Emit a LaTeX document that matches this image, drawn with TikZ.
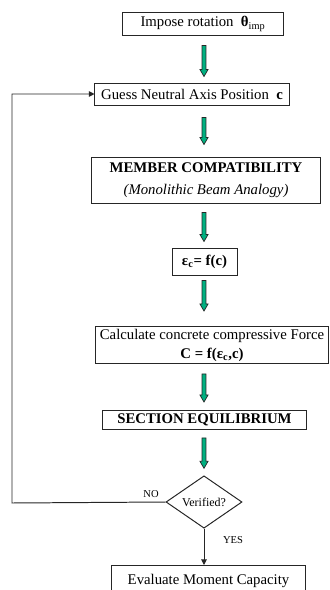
\documentclass[tikz,border=0pt]{standalone}
\usepackage{fontspec}
\setmainfont{Liberation Serif}
\usetikzlibrary{shapes.geometric, arrows.meta, calc}
\definecolor{arrgreen}{RGB}{0,176,128}

\begin{document}
\begin{tikzpicture}[
    x=0.025cm, y=-0.025cm,
    box/.style={rectangle, draw=black!85, line width=0.7pt, inner sep=1pt, align=center, font=\fontsize{10.5}{13}\selectfont},
    garr/.style={draw=black!85, fill=arrgreen, line width=0.5pt,
        to path={let \p1=(\tikztostart), \p2=(\tikztotarget) in
            (\x1-1.4pt,\y1) -- (\x2-1.4pt,\y2+5pt) -- (\x2-2.9pt,\y2+5pt) -- (\x2,\y2)
            -- (\x2+2.9pt,\y2+5pt) -- (\x2+1.4pt,\y2+5pt) -- (\x1+1.4pt,\y1) -- cycle}},
    arr/.style={-{Triangle[length=4pt,width=4pt]}, line width=0.7pt, draw=black!85},
    lbl/.style={font=\fontsize{7.5}{9}\selectfont}
]
\useasboundingbox (0,0) rectangle (329,590);
\coordinate (spine) at (204,0);

% Main chain
\node[box, minimum width=4cm, minimum height=0.575cm] (imp) at (203,24) {Impose rotation\ \ \textbf{θ}\textsubscript{imp}};
\node[box, minimum width=4.85cm, minimum height=0.55cm] (guess) at (192,94) {Guess Neutral Axis Position\ \ \textbf{c}};
\node[box, minimum width=5.7cm, minimum height=1.15cm, font=\fontsize{10.5}{15.5}\selectfont] (compat) at (206,180) {\textbf{MEMBER COMPATIBILITY}\\\textit{(Monolithic Beam Analogy)}};
\node[box, minimum width=1.625cm, minimum height=0.675cm] (strain) at (204.5,261.5) {\textbf{ε\textsubscript{c}= f(c)}};
\node[box, minimum width=5.8cm, minimum height=0.925cm, font=\fontsize{10.5}{13.5}\selectfont] (force) at (212,345) {Calculate concrete compressive Force\\\textbf{C = f(ε\textsubscript{c},c)}};
\node[box, minimum width=5.075cm, minimum height=0.475cm] (equil) at (204.5,420) {\textbf{SECTION EQUILIBRIUM}};
\node[diamond, draw=black!85, line width=0.7pt, inner sep=0pt, minimum width=1.9cm, minimum height=1.25cm, font=\fontsize{8.5}{10}\selectfont] (ver) at (204,502) {Verified?};
\node[box, minimum width=4.825cm, minimum height=0.75cm, anchor=north] (eval) at (208.5,565) {Evaluate Moment Capacity};

% Green block arrows
\path[garr] ($(imp.south -| spine)+(0,9.5)$) to ($(guess.north -| spine)+(0,-6)$);
\path[garr] ($(guess.south -| spine)+(0,12)$) to ($(compat.north -| spine)+(0,-12)$);
\path[garr] ($(compat.south -| spine)+(0,9)$) to ($(strain.north -| spine)+(0,-6)$);
\path[garr] ($(strain.south -| spine)+(0,5)$) to ($(force.north -| spine)+(0,-15)$);
\path[garr] ($(force.south -| spine)+(0,10)$) to ($(equil.north -| spine)+(0,-8)$);
\path[garr] ($(equil.south -| spine)+(0,8)$) to ($(ver.north)+(0,-7)$);

% Decision
\coordinate (back) at (12,503);
\draw[arr] (ver.west) -- (back) |- (guess.west);
\draw[arr] (ver.south) -- (eval.north -| ver);
\node[lbl] (no) at (151,494) {NO};
\node[lbl] (yes) at (233,540) {YES};
\end{tikzpicture}
\end{document}
